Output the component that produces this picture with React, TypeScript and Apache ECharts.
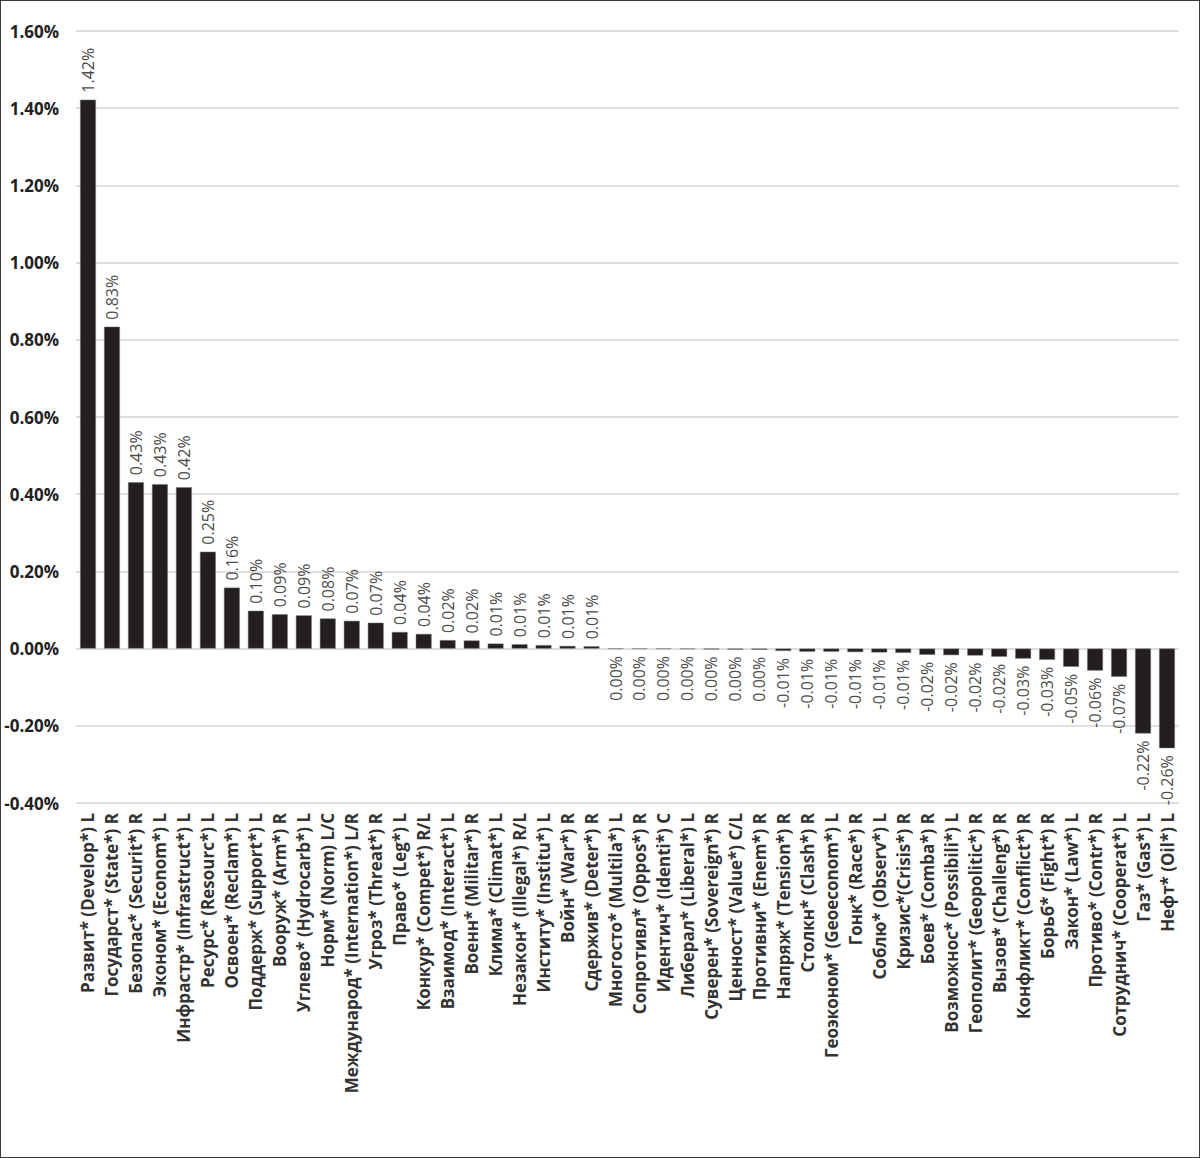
import React, { useEffect, useRef } from "react";
import * as echarts from "echarts";

const categories: string[] = [
  "Развит* (Develop*) L",
  "Государст* (State*) R",
  "Безопас* (Securit*) R",
  "Эконом* (Econom*) L",
  "Инфрастр* (Infrastruct*) L",
  "Ресурс* (Resourc*) L",
  "Освоен* (Reclam*) L",
  "Поддерж* (Support*) L",
  "Вооруж* (Arm*) R",
  "Углево* (Hydrocarb*) L",
  "Норм* (Norm) L/C",
  "Международ* (Internation*) L/R",
  "Угроз* (Threat*) R",
  "Право* (Leg*) L",
  "Конкур* (Compet*) R/L",
  "Взаимод* (Interact*) L",
  "Военн* (Militar*) R",
  "Клима* (Climat*) L",
  "Незакон* (Illegal*) R/L",
  "Институ* (Institu*) L",
  "Войн* (War*) R",
  "Сдержив* (Deter*) R",
  "Многосто* (Multila*) L",
  "Сопротивл* (Oppos*) R",
  "Идентич* (Identi*) C",
  "Либерал* (Liberal*) L",
  "Суверен* (Sovereign*) R",
  "Ценност* (Value*) C/L",
  "Противни* (Enem*) R",
  "Напряж* (Tension*) R",
  "Столкн* (Clash*) R",
  "Геоэконом* (Geoeconom*) L",
  "Гонк* (Race*) R",
  "Соблю* (Observ*) L",
  "Кризис*(Crisis*) R",
  "Боев* (Comba*) R",
  "Возможнос* (Possibili*) L",
  "Геополит* (Geopolitic*) R",
  "Вызов* (Challeng*) R",
  "Конфликт* (Conflict*) R",
  "Борьб* (Fight*) R",
  "Закон* (Law*) L",
  "Противо* (Contr*) R",
  "Сотруднич* (Cooperat*) L",
  "Газ* (Gas*) L",
  "Нефт* (Oil*) L",
];

// values in percent
const values: number[] = [
  1.422, 0.834, 0.431, 0.426, 0.418, 0.251, 0.158, 0.098, 0.089, 0.086,
  0.078, 0.072, 0.067, 0.043, 0.038, 0.022, 0.021, 0.013, 0.011, 0.009,
  0.007, 0.006, -0.0004, -0.0006, -0.0008, -0.001, -0.0022, -0.0026, -0.003,
  -0.006, -0.008, -0.008, -0.009, -0.01, -0.011, -0.016, -0.017, -0.018,
  -0.021, -0.026, -0.029, -0.047, -0.057, -0.073, -0.22, -0.258,
];

const yTicks = { min: -0.4, max: 1.6, interval: 0.2 };

const fmt = (v: number) => {
  const r = Math.abs(v) < 0.005 ? 0 : v;
  return `${r.toFixed(2)}%`;
};

export default function App() {
  const ref = useRef<HTMLDivElement>(null);
  useEffect(() => {
    if (!ref.current) return;
    const chart = echarts.init(ref.current, undefined, { renderer: "svg" });
    const font = "'Open Sans', 'Noto Sans', sans-serif";
    chart.setOption({
      animation: false,
      backgroundColor: "#ffffff",
      grid: { left: 75, right: 20, top: 30, bottom: 354 },
      xAxis: {
        type: "category",
        data: categories,
        axisLine: { show: false },
        axisTick: { show: false },
        axisLabel: {
          rotate: 90,
          interval: 0,
          margin: 10,
          fontFamily: font,
          fontWeight: "bold",
          fontSize: 17,
          color: "#333333",
        },
      },
      yAxis: {
        type: "value",
        min: yTicks.min,
        max: yTicks.max,
        interval: yTicks.interval,
        axisLine: { show: false },
        axisTick: { show: false },
        splitLine: { lineStyle: { color: "#d4d4d4", width: 1.5 } },
        axisLabel: {
          margin: 17,
          fontFamily: font,
          fontWeight: "bold",
          fontSize: 17,
          color: "#222222",
          formatter: (v: number) => `${v.toFixed(2)}%`,
        },
      },
      series: [
        {
          type: "bar",
          barWidth: "66%",
          itemStyle: { color: "#231f20", borderColor: "#777777", borderWidth: 0.5 },
          data: values.map((v) => ({
            value: v,
            label: {
              show: true,
              position: v >= 0 ? "top" : "bottom",
              rotate: 90,
              align: v >= 0 ? "left" : "right",
              verticalAlign: "middle",
              distance: 7,
              fontFamily: font,
              fontSize: 16,
              color: "#4d4d4d",
              formatter: () => fmt(v),
            },
          })),
        },
      ],
    });
    return () => chart.dispose();
  }, []);
  return (
    <div
      style={{
        position: "fixed",
        left: 0,
        top: 0,
        width: 1200,
        height: 1158,
        boxSizing: "border-box",
        border: "1.5px solid #3a3a3a",
        background: "#fff",
      }}
    >
      <div ref={ref} style={{ width: "100%", height: "100%" }} />
    </div>
  );
}
